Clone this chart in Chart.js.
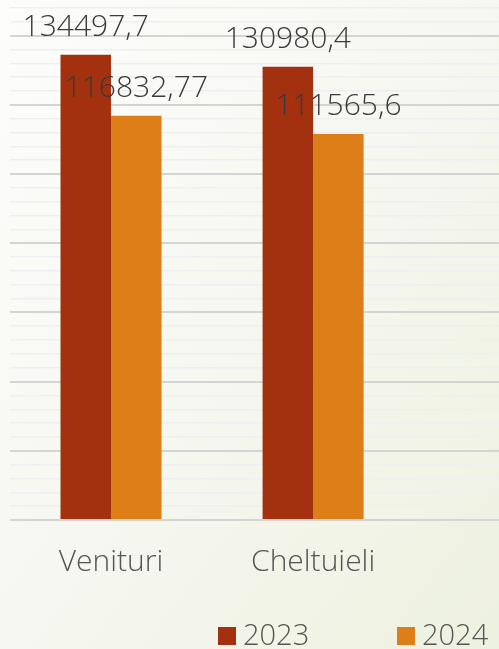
<!DOCTYPE html>
<html>
<head>
<meta charset="utf-8">
<script src="https://cdn.jsdelivr.net/npm/chart.js@4.4.1/dist/chart.umd.min.js"></script>
<style>
    html, body { margin: 0; padding: 0; }
    body {
        width: 499px;
        height: 649px;
        overflow: hidden;
        background: linear-gradient(to bottom right, #fdfdfc 0%, #f6f7f0 50%, #edf1df 100%);
    }
    #chart { display: block; }
</style>
</head>
<body>
<canvas id="chart" width="499" height="649"></canvas>
<script>
// date
var categories = ['Venituri', 'Cheltuieli'];
var years = ['2023', '2024'];
var values2023 = [134497.7, 130980.4];
var values2024 = [116832.77, 111565.6];
var valueLabels2023 = ['134497,7', '130980,4'];
var valueLabels2024 = ['116832,77', '111565,6'];

var colors = ['#a3300f', '#de7e19'];
var fontFamily = '"Open Sans", "Noto Sans", sans-serif';

function points(values) {
    return values.map(function (v, i) { return { x: i, y: v }; });
}

// etichetele de valoare deasupra barelor
var valueLabelPlugin = {
    id: 'valueLabels',
    afterDatasetsDraw: function (chart) {
        var ctx = chart.ctx;
        var allLabels = [valueLabels2023, valueLabels2024];
        ctx.save();
        ctx.font = '300 30px ' + fontFamily;
        ctx.fillStyle = '#3a3a3a';
        ctx.textAlign = 'center';
        ctx.textBaseline = 'alphabetic';
        chart.data.datasets.forEach(function (ds, d) {
            var meta = chart.getDatasetMeta(d);
            meta.data.forEach(function (bar, i) {
                ctx.fillText(allLabels[d][i], bar.x, bar.y - 19);
            });
        });
        ctx.restore();
    }
};

// legenda desenata manual (spatiere ca in original)
var legendPlugin = {
    id: 'customLegend',
    afterDraw: function (chart) {
        var ctx = chart.ctx;
        ctx.save();
        ctx.font = '300 29px ' + fontFamily;
        ctx.textBaseline = 'alphabetic';
        ctx.textAlign = 'left';
        chart.data.datasets.forEach(function (ds, d) {
            var bx = 218 + d * 179;
            ctx.fillStyle = ds.backgroundColor;
            ctx.fillRect(bx, 627, 18, 18);
            ctx.fillStyle = '#555555';
            ctx.fillText(ds.label, bx + 25, 645);
        });
        ctx.restore();
    }
};

var ctx = document.getElementById('chart').getContext('2d');
var chart = new Chart(ctx, {
    type: 'bar',
    data: {
        datasets: [{
            label: years[0],
            data: points(values2023),
            backgroundColor: colors[0],
            categoryPercentage: 0.5,
            barPercentage: 1
        }, {
            label: years[1],
            data: points(values2024),
            backgroundColor: colors[1],
            categoryPercentage: 0.5,
            barPercentage: 1
        }]
    },
    options: {
        responsive: false,
        animation: false,
        layout: {
            padding: { left: 10, right: 0, top: 1, bottom: 53 }
        },
        plugins: {
            legend: { display: false },
            tooltip: { enabled: false }
        },
        scales: {
            x: {
                type: 'linear',
                min: -0.5,
                max: 1.92,
                offset: false,
                grid: { display: false },
                border: { display: false },
                afterBuildTicks: function (scale) {
                    scale.ticks = categories.map(function (c, i) { return { value: i }; });
                },
                ticks: {
                    padding: 16,
                    color: '#555555',
                    font: { family: fontFamily, size: 30, weight: '300' },
                    callback: function (value) { return categories[value]; }
                }
            },
            y: {
                min: 0,
                max: 150000,
                afterBuildTicks: function (scale) {
                    var t = [];
                    for (var v = 0; v <= 148000; v += 4000) t.push({ value: v });
                    scale.ticks = t;
                },
                ticks: { display: false },
                border: { display: false },
                grid: {
                    drawTicks: false,
                    color: function (c) {
                        return c.tick.value % 20000 === 0 ? '#d4d4d4' : '#eeeff1';
                    },
                    lineWidth: function (c) {
                        return c.tick.value % 20000 === 0 ? 2 : 1.5;
                    }
                }
            }
        }
    },
    plugins: [valueLabelPlugin, legendPlugin]
});
</script>
</body>
</html>
